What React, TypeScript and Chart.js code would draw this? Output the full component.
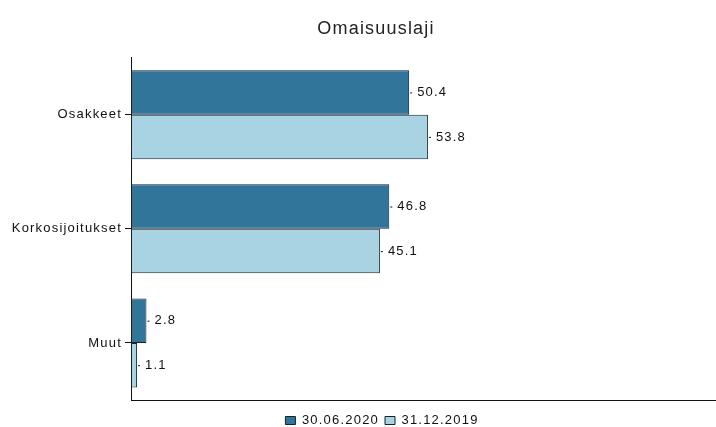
import React, { useEffect, useRef } from "react";
import { Chart, registerables } from "chart.js";

Chart.register(...registerables);

const categories = ["Osakkeet", "Korkosijoitukset", "Muut"];
const series1Label = "30.06.2020";
const series2Label = "31.12.2019";
const series1 = [50.4, 46.8, 2.8];
const series2 = [53.8, 45.1, 1.1];
const titleText = "Omaisuuslaji";

const FONT = "'Liberation Sans', Arial, sans-serif";
const SPACING = "1.2px";
const LEGEND_SHIFT = 24;
const TITLE_SHIFT = 18;

const spacingPlugin = {
  id: "letterSpacing",
  beforeUpdate(chart: any) {
    chart.ctx.letterSpacing = SPACING;
  },
  beforeLayout(chart: any) {
    chart.ctx.letterSpacing = SPACING;
  },
  afterLayout(chart: any) {
    if (chart.legend) {
      chart.legend.left += LEGEND_SHIFT;
      chart.legend.right += LEGEND_SHIFT;
    }
    if (chart.titleBlock) {
      chart.titleBlock.left += TITLE_SHIFT;
      chart.titleBlock.right += TITLE_SHIFT;
    }
  },
  beforeDraw(chart: any) {
    chart.ctx.letterSpacing = SPACING;
  },
};

const labelPlugin = {
  id: "valueLabels",
  afterDatasetsDraw(chart: any) {
    const ctx = chart.ctx;
    ctx.save();
    ctx.letterSpacing = SPACING;
    ctx.font = `13px ${FONT}`;
    ctx.fillStyle = "#111";
    ctx.strokeStyle = "#111";
    ctx.textBaseline = "middle";
    ctx.textAlign = "left";
    chart.data.datasets.forEach((ds: any, di: number) => {
      const meta = chart.getDatasetMeta(di);
      meta.data.forEach((el: any, i: number) => {
        const v = ds.data[i];
        const x = el.x;
        const y = el.y;
        ctx.beginPath();
        ctx.lineWidth = 1;
        ctx.moveTo(x + 1, y + 0.5);
        ctx.lineTo(x + 3, y + 0.5);
        ctx.stroke();
        ctx.fillText(v.toFixed(1), x + 8, y);
      });
    });
    ctx.restore();
  },
};

export default function App() {
  const ref = useRef<HTMLCanvasElement>(null);
  useEffect(() => {
    if (!ref.current) return;
    const chart = new Chart(ref.current, {
      type: "bar",
      data: {
        labels: categories,
        datasets: [
          {
            label: series1Label,
            data: series1,
            backgroundColor: "#32759a",
            borderColor: "#15222b",
            borderWidth: 1,
            borderSkipped: false,
            categoryPercentage: 0.78,
            barPercentage: 1,
          },
          {
            label: series2Label,
            data: series2,
            backgroundColor: "#a8d3e2",
            borderColor: "#15222b",
            borderWidth: 1,
            borderSkipped: false,
            categoryPercentage: 0.78,
            barPercentage: 1,
          },
        ],
      },
      options: {
        indexAxis: "y",
        animation: false,
        responsive: false,
        maintainAspectRatio: false,
        layout: { padding: { left: 0, right: 0, top: 0, bottom: -10 } },
        plugins: {
          title: {
            display: true,
            text: titleText,
            color: "#222",
            font: { family: FONT, size: 18, weight: "normal" },
            padding: { top: 18, bottom: 18 },
          },
          legend: {
            position: "bottom",
            labels: {
              color: "#111",
              font: { family: FONT, size: 13 },
              boxWidth: 10,
              boxHeight: 8,
              padding: 6,
            },
          },
          tooltip: { enabled: false },
        },
        scales: {
          x: {
            min: 0,
            max: 106,
            ticks: { display: false },
            grid: { display: false },
            border: { display: true, color: "#111", width: 1 },
          },
          y: {
            ticks: {
              color: "#111",
              font: { family: FONT, size: 13 },
              padding: 3,
            },
            grid: {
              display: true,
              offset: false,
              drawOnChartArea: false,
              drawTicks: true,
              tickLength: 6,
              color: "#111",
            },
            border: { display: true, color: "#111", width: 1 },
            afterFit(scale: any) {
              scale.width = 131;
            },
          },
        },
      },
      plugins: [spacingPlugin, labelPlugin],
    } as any);
    return () => chart.destroy();
  }, []);
  return (
    <div style={{ position: "fixed", left: 0, top: 0, width: 716, height: 427, background: "#fff" }}>
      <canvas ref={ref} width={716} height={427} />
    </div>
  );
}
